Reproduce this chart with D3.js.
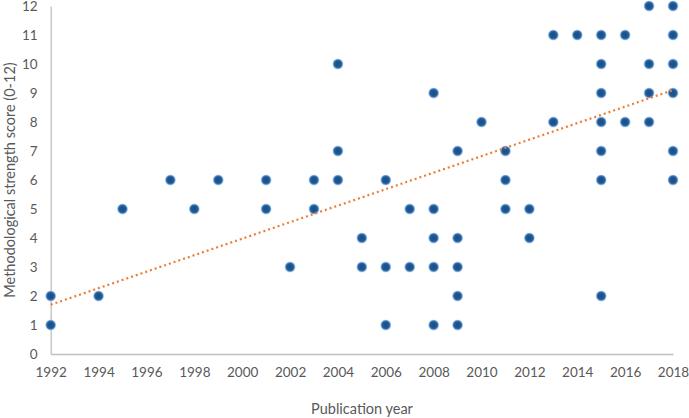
<!DOCTYPE html>
<html>
<head>
<meta charset="utf-8">
<script src="https://cdn.jsdelivr.net/npm/d3@7"></script>
<style>
  html, body { margin: 0; padding: 0; background: #fff; }
  svg { display: block; }
  text { font-family: Lato, "Open Sans", sans-serif; fill: #595959; }
</style>
</head>
<body>
<svg id="chart" width="689" height="418"></svg>
<script>
// Data: publication year and methodological strength score
const years  = [1992,1992,1994,1995,1997,1998,1999,2001,2001,2002,2003,2003,
                2004,2004,2004,2005,2005,2006,2006,2006,2007,2007,
                2008,2008,2008,2008,2008,2009,2009,2009,2009,2009,2010,
                2011,2011,2011,2012,2012,2013,2013,2014,
                2015,2015,2015,2015,2015,2015,2015,2016,2016,
                2017,2017,2017,2017,2018,2018,2018,2018,2018,2018];
const scores = [1,2,2,5,6,5,6,6,5,3,6,5,
                10,7,6,4,3,6,3,1,5,3,
                9,5,4,3,1,7,4,3,2,1,8,
                7,6,5,5,4,11,8,11,
                11,10,9,8,7,6,2,11,8,
                12,10,9,8,12,11,10,9,7,6];
// Linear trendline endpoints
const trendYears  = [1992, 2018];
const trendScores = [1.70, 9.10];
const xTicks = [1992,1994,1996,1998,2000,2002,2004,2006,2008,2010,2012,2014,2016,2018];
const yTicks = [0,1,2,3,4,5,6,7,8,9,10,11,12];

const svg = d3.select("#chart");
const x = d3.scaleLinear().domain([1992, 2018]).range([50.7, 673]);
const y = d3.scaleLinear().domain([0, 12]).range([354, 6]);

// gradient for markers
const defs = svg.append("defs");
const grad = defs.append("radialGradient").attr("id", "mk");
grad.append("stop").attr("offset", "0%").attr("stop-color", "#1b4f84");
grad.append("stop").attr("offset", "55%").attr("stop-color", "#1f5792");
grad.append("stop").attr("offset", "75%").attr("stop-color", "#3a78b8");
grad.append("stop").attr("offset", "100%").attr("stop-color", "#9cc3e8").attr("stop-opacity", 0.5);

// axes lines
const xAxis = d3.axisBottom(x).tickValues(xTicks).tickFormat(d3.format("d")).tickSize(0).tickPadding(13);
const gx = svg.append("g").attr("transform", "translate(0,354)").call(xAxis);
gx.select(".domain").attr("stroke", "#bfbfbf").attr("stroke-width", 1.3);
gx.selectAll("text").style("font-size", "13.5px").style("fill", "#595959");

const yAxis = d3.axisLeft(y).tickValues(yTicks).tickSize(0).tickPadding(13);
const gy = svg.append("g").attr("transform", "translate(50.7,0)").call(yAxis);
gy.select(".domain").attr("stroke", "#bfbfbf").attr("stroke-width", 1.3);
gy.selectAll("text").style("font-size", "13.5px").style("fill", "#595959");

// points
const pts = years.map((yr, i) => ({ yr, s: scores[i] }));
svg.append("g").selectAll("circle").data(pts).join("circle")
  .attr("cx", d => x(d.yr)).attr("cy", d => y(d.s))
  .attr("r", 5.5).attr("fill", "url(#mk)");

// trendline
const tl = trendYears.map((yr, i) => [yr, trendScores[i]]);
svg.append("path").datum(tl)
  .attr("d", d3.line().x(d => x(d[0])).y(d => y(d[1])))
  .attr("fill", "none").attr("stroke", "#ed7d31").attr("stroke-width", 2.2)
  .attr("stroke-dasharray", "2,3");

// axis titles
svg.append("text").attr("x", 362).attr("y", 414).attr("text-anchor", "middle")
  .style("font-size", "14.5px").text("Publication year");
svg.append("text").attr("transform", "translate(15,180) rotate(-90)").attr("text-anchor", "middle")
  .style("font-size", "14.5px").text("Methodological strength score (0-12)");
</script>
</body>
</html>
